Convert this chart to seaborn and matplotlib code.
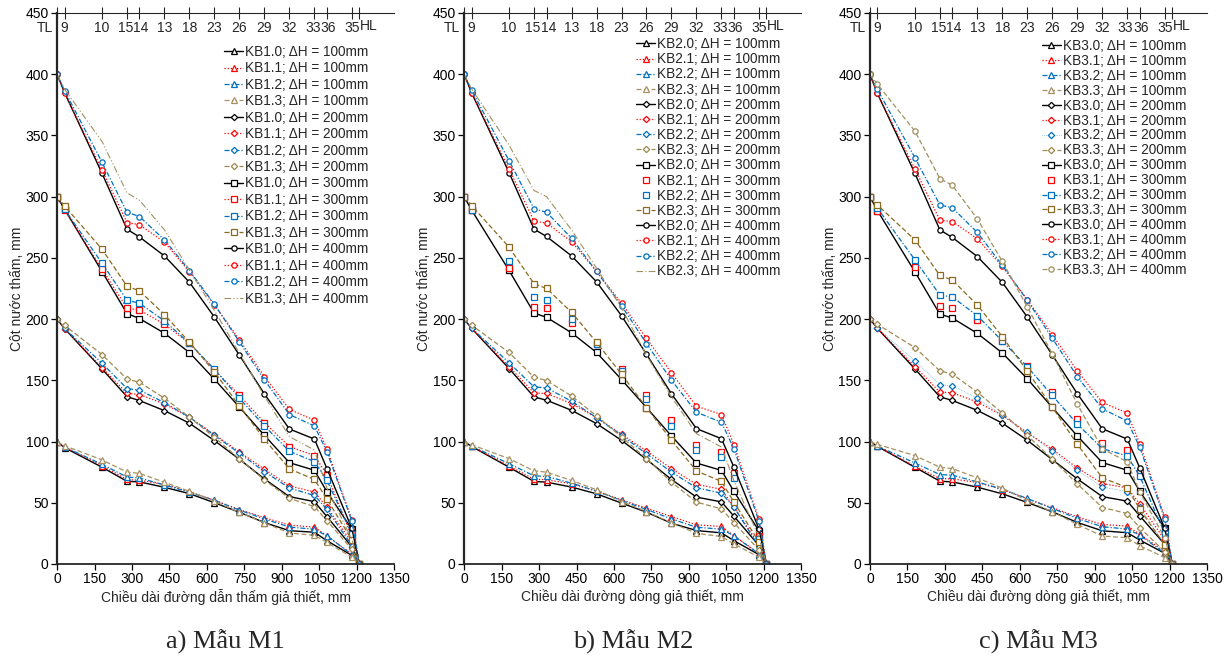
import matplotlib
matplotlib.use("Agg")
import matplotlib.pyplot as plt
import seaborn as sns

# ---------------- data ----------------
X = [0, 30, 180, 280, 330, 430, 530, 630, 730, 830, 930, 1030, 1080, 1180, 1210]
TOP_LABELS = ['TL', '9', '10', '15', '14', '13', '18', '23', '26', '29', '32', '33', '36', '35', 'HL']
HEADS = [100, 200, 300, 400]
X_TICKS = list(range(0, 1351, 150))
Y_TICKS = list(range(0, 451, 50))

M1_H100 = [[100, 95, 79, 67.5, 67, 62.6, 57.4, 50, 42.2, 33.8, 27.2, 25.9, 19, 7, 0],
           [100, 95.5, 80.3, 69, 68.3, 65, 59, 52, 44.4, 37.8, 31.8, 30, 23, 8, 0],
           [100, 95.5, 81.4, 71, 70.2, 64.5, 58.5, 52, 44, 36.7, 30.2, 28.3, 23, 7.6, 0],
           [100, 96.6, 85, 75, 74, 66.7, 59.3, 51.2, 42.2, 33.5, 25.3, 23.4, 17.7, 5.5, 0]]
M1_H200 = [[200, 192.2, 159.2, 136.6, 133.4, 125.2, 114.9, 100.7, 85.5, 69.4, 55, 50.9, 38.7, 14, 0],
           [200, 192, 160.3, 139.4, 138.3, 130.7, 119.8, 105.6, 91.5, 77.3, 63.7, 58.8, 46.5, 17.4, 0],
           [200, 192.4, 163.9, 143.2, 142, 131.7, 119.8, 105, 90.4, 75.4, 62, 56, 44.6, 15, 0],
           [200, 194.9, 171, 151, 148.4, 135.3, 119.8, 103.4, 85.7, 68.6, 53.6, 46.8, 35.4, 12, 0]]
M1_H300 = [[300, 289.7, 238.8, 204.5, 200.4, 188.4, 172.6, 150.8, 128, 105, 82.7, 76.5, 59, 28.3, 0],
           [300, 289, 240.9, 208.8, 207.4, 195.7, 180.2, 158.4, 137.7, 115.4, 95.8, 88.5, 73, 22, 0],
           [300, 289.7, 245.6, 215.4, 212.9, 198.4, 180.2, 159, 135.3, 112.7, 92, 83.6, 68.3, 24.5, 0],
           [300, 292.4, 257, 226.8, 223, 203.6, 181, 156.8, 129, 101.8, 77.6, 69, 53, 19.6, 0]]
M1_H400 = [[400, 385, 319, 273.3, 267, 251.5, 230, 201.5, 170.4, 138.8, 110.2, 102, 77.9, 29, 0],
           [400, 384.4, 321.8, 278.8, 277, 262.7, 238.5, 211.5, 183, 153, 126.3, 117.3, 94, 36, 0],
           [400, 386.6, 328, 287.2, 283.7, 264.6, 239.6, 212, 181.3, 150.3, 122, 112.7, 91.7, 35, 0],
           [400, 387.7, 345, 303, 297, 272.8, 240, 207, 172, 137, 104, 93, 62, 20, 0]]

M2_H100 = [[100, 96, 79, 67.4, 66.8, 62.8, 57.3, 49.7, 42.3, 33.3, 27.3, 25.4, 19, 7.6, 0],
           [100, 96, 80, 69.3, 68.8, 65.5, 59.5, 52.4, 45.6, 38.7, 32, 30.6, 23, 8.7, 0],
           [100, 96.3, 81.9, 72, 71.5, 66, 59.5, 51.8, 44.5, 36.8, 30, 28.4, 23, 8.2, 0],
           [100, 97.4, 86, 76, 75, 68.2, 60.6, 51, 42.8, 33.6, 25, 22.4, 16.4, 5.5, 0]]
M2_H200 = [[200, 192.4, 159.6, 136.4, 133.7, 125.5, 114.6, 101, 85.4, 69, 54.6, 50.7, 39, 15, 0],
           [200, 192.4, 161, 139.7, 139.2, 131, 119.5, 105.9, 92.2, 77.8, 65, 61, 46.4, 16, 0],
           [200, 192.6, 164.3, 144.6, 143.8, 132.9, 119.5, 105, 90, 75, 62.2, 57.8, 46.4, 14, 0],
           [200, 195, 172.7, 152.5, 149.8, 137.2, 120.9, 103.7, 86, 66.8, 50.5, 45, 33.6, 11.5, 0]]
M2_H300 = [[300, 289, 239.7, 204.9, 201.4, 188.8, 172.7, 150.6, 127.7, 104.5, 82.4, 76.4, 59.2, 27, 0],
           [300, 289, 241.6, 209.8, 209, 197, 180, 159.6, 137.8, 117.3, 96.9, 91.4, 74.2, 23, 0],
           [300, 289, 247, 218, 215.8, 199.7, 180, 157.7, 134.8, 112.4, 92.8, 87.3, 70, 20, 0],
           [300, 292.7, 258.7, 228.8, 225, 205.5, 181, 155, 127.7, 101, 75.9, 67.4, 50.5, 18, 0]]
M2_H400 = [[400, 384.8, 319.6, 273.4, 267.4, 251.6, 230.4, 202.7, 171.3, 138.9, 110.5, 102.3, 79, 28.6, 0],
           [400, 384.8, 322.6, 279.9, 278.3, 263.3, 238.9, 213, 184.2, 156, 128.8, 122, 97.4, 36.8, 0],
           [400, 387, 329.3, 290, 287.2, 266, 238.9, 210.9, 180, 150, 123.9, 115.7, 94, 35, 0],
           [400, 388, 342, 305, 300, 272.8, 241.6, 209, 170.5, 136.4, 106.4, 95.5, 68, 22, 0]]

M3_H100 = [[100, 96, 79, 67.6, 67, 62.7, 57.3, 50.2, 42.6, 33.9, 27.1, 25.5, 19.5, 8.7, 0],
           [100, 96, 79.8, 69.7, 69.5, 66.5, 60.8, 53.2, 45.9, 38.5, 32.3, 30.9, 24.4, 10, 0],
           [100, 96.3, 82.5, 73, 72.5, 67, 61, 53.5, 45.3, 37.2, 30.4, 28.5, 23.6, 8.7, 0],
           [100, 97.7, 88.5, 79, 77.9, 70.3, 61.9, 51.6, 42.6, 32.3, 22.8, 21.4, 14.9, 5.2, 0]]
M3_H200 = [[200, 192.4, 159.3, 136.5, 133.5, 125.4, 115, 101, 85.2, 69.5, 55, 51.3, 39.3, 16, 0],
           [200, 192.4, 161.2, 140.3, 139.8, 132.2, 121.3, 107.2, 93.6, 78.4, 65.7, 62.1, 49.1, 19.5, 0],
           [200, 192.7, 165.8, 146.5, 145.5, 135.4, 121.3, 107.7, 92, 76.5, 63, 58.9, 46.4, 15.5, 0],
           [200, 195.7, 176.7, 157.7, 155, 140.3, 123.2, 105, 85.5, 65.4, 46.1, 41.2, 29.6, 10, 0]]
M3_H300 = [[300, 288.6, 238.6, 204, 200.8, 188.3, 172.3, 151.2, 127.8, 104.5, 82.8, 76.5, 59.4, 29, 0],
           [300, 288.6, 242.1, 210.3, 209.2, 198.9, 182, 161.5, 140.6, 118, 98.8, 92.8, 75.2, 21.4, 0],
           [300, 290.5, 248.4, 219.6, 218, 202.7, 182, 161, 137.6, 114.2, 94.2, 88.2, 71.6, 25, 0],
           [300, 293.2, 264.7, 235.6, 231.8, 211.4, 185.6, 157.4, 128.1, 97.7, 70.3, 62.4, 44.8, 15.5, 0]]
M3_H400 = [[400, 384.2, 319, 272.8, 266.6, 251, 229.9, 201.6, 170.7, 139, 110.4, 102, 78.4, 29, 0],
           [400, 384.2, 322.6, 280.7, 279.6, 265.5, 243, 215.8, 187.2, 157.7, 131.9, 123.2, 98.2, 38, 0],
           [400, 387.5, 331.8, 293.2, 290.8, 270.7, 243.8, 215.2, 184.3, 153, 126.7, 116.7, 95.3, 36.6, 0],
           [400, 391.8, 353.5, 314.7, 309.2, 281.8, 247, 209.8, 171.5, 130.5, 94.2, 83.3, 58.9, 21, 0]]

PANELS = [
    dict(num=1, data=[M1_H100, M1_H200, M1_H300, M1_H400],
         xlabel='Chiều dài đường dẫn thấm giả thiết, mm', caption='a) Mẫu M1'),
    dict(num=2, data=[M2_H100, M2_H200, M2_H300, M2_H400],
         xlabel='Chiều dài đường dòng giả thiết, mm', caption='b) Mẫu M2'),
    dict(num=3, data=[M3_H100, M3_H200, M3_H300, M3_H400],
         xlabel='Chiều dài đường dòng giả thiết, mm', caption='c) Mẫu M3'),
]

# ---------------- styles ----------------
sns.set_style('ticks')
plt.rcParams['font.family'] = ['Liberation Sans', 'DejaVu Sans']
FS = 10
LFS = 9.8
TOP_FAMILY = ['Liberation Sans Narrow', 'Liberation Sans', 'DejaVu Sans']

COLORS = ['#000000', '#FF0000', '#0070C0', None]
OLIVE = {100: '#A89264', 200: '#A08A52', 300: '#8C6B20', 400: '#A09060'}
LS = ['-', (0, (1, 1.5)), (0, (4, 1.5, 1, 1.5)), (0, (4, 2))]
LW = [1.0, 0.9, 0.9, 0.9]
MARKERS = {100: '^', 200: 'D', 300: 's', 400: 'o'}
MS = {100: 3.8, 200: 3.2, 300: 3.8, 400: 3.8}

SPECIAL = {
    (1, 400, 3): dict(marker=None, ls=(0, (6, 2, 1, 2, 1, 2)), lw=0.8),
    (2, 300, 1): dict(ls='none'),
    (2, 300, 2): dict(ls='none'),
    (2, 400, 3): dict(marker=None, ls=(0, (6, 2, 1, 2)), lw=0.8),
    (3, 200, 2): dict(ls=(0, (1, 2)), lw=0.4),
    (3, 300, 1): dict(ls='none'),
}

# small horizontal nudges (points) for crowded top labels
TOP_NUDGE = {'15': -1.2, '14': 1.2, '33': -1.2, '36': 1.2}

LEG_POS = {1: (0.495, 0.942, 0.18), 2: (0.51, 0.956, 0.085), 3: (0.51, 0.953, 0.07)}

fig = plt.figure(figsize=(12.29, 6.6), dpi=100)
lefts = [0.0464, 0.3776, 0.7078]
W, B, H = 0.2745, 0.1455, 0.835

for pi, panel in enumerate(PANELS):
    ax = fig.add_axes([lefts[pi], B, W, H])
    p = panel['num']
    for hi, head in enumerate(HEADS):
        for k in range(4):
            vals = panel['data'][hi][k]
            color = COLORS[k] if COLORS[k] else OLIVE[head]
            st = dict(marker=MARKERS[head], ls=LS[k], lw=LW[k])
            st.update(SPECIAL.get((p, head, k), {}))
            kw = dict(color=color, linestyle=st['ls'], linewidth=st['lw'])
            if st['marker']:
                kw.update(marker=st['marker'], markersize=MS[head],
                          markerfacecolor='white', markeredgecolor=color,
                          markeredgewidth=0.9)
            sns.lineplot(x=X, y=vals, ax=ax, sort=False, estimator=None,
                         label=f'KB{p}.{k}; ΔH = {head}mm', **kw)

    ax.set_xlim(0, 1350)
    ax.set_ylim(0, 450)
    ax.set_xticks(X_TICKS)
    ax.set_yticks(Y_TICKS)
    ax.tick_params(axis='both', labelsize=FS, length=4, width=0.9, pad=2, colors='#000000')
    ax.spines['right'].set_visible(False)
    ax.spines['top'].set_visible(False)
    ax.spines['left'].set_linewidth(1.6)
    ax.spines['bottom'].set_linewidth(1.3)
    ax.set_xlabel(panel['xlabel'], fontsize=FS, labelpad=2)
    ax.set_ylabel('Cột nước thấm, mm', fontsize=FS)
    ax.yaxis.set_label_coords(-0.098, 0.5)

    # top axis with point labels
    sec = ax.secondary_xaxis('top')
    sec.set_xticks(X)
    sec.set_xticklabels([''] * len(X))
    sec.tick_params(direction='inout', length=8, width=0.8)
    sec.spines['top'].set_linewidth(0.8)
    for xv, lab in zip(X, TOP_LABELS):
        if lab == 'TL':
            ha, dx, dy = 'right', -3, -10.8
        elif lab == 'HL':
            ha, dx, dy = 'left', 0.5, -9.5
        else:
            ha, dx, dy = 'center', TOP_NUDGE.get(lab, 0), -10.8
        ax.annotate(lab, xy=(xv, 1), xycoords=('data', 'axes fraction'),
                    xytext=(dx, dy), textcoords='offset points',
                    ha=ha, va='center', fontsize=FS, family=TOP_FAMILY)

    lx, ly, lsp = LEG_POS[p]
    ax.legend(loc='upper left', bbox_to_anchor=(lx, ly), frameon=False,
              fontsize=LFS, handlelength=1.4, handletextpad=0.15,
              labelspacing=lsp, borderpad=0, borderaxespad=0)

    fig.text(lefts[pi] + W / 2, 0.028, panel['caption'], ha='center', va='center',
             fontsize=19, family=['Liberation Serif', 'DejaVu Serif'])

fig.savefig('out.png', dpi=100)
